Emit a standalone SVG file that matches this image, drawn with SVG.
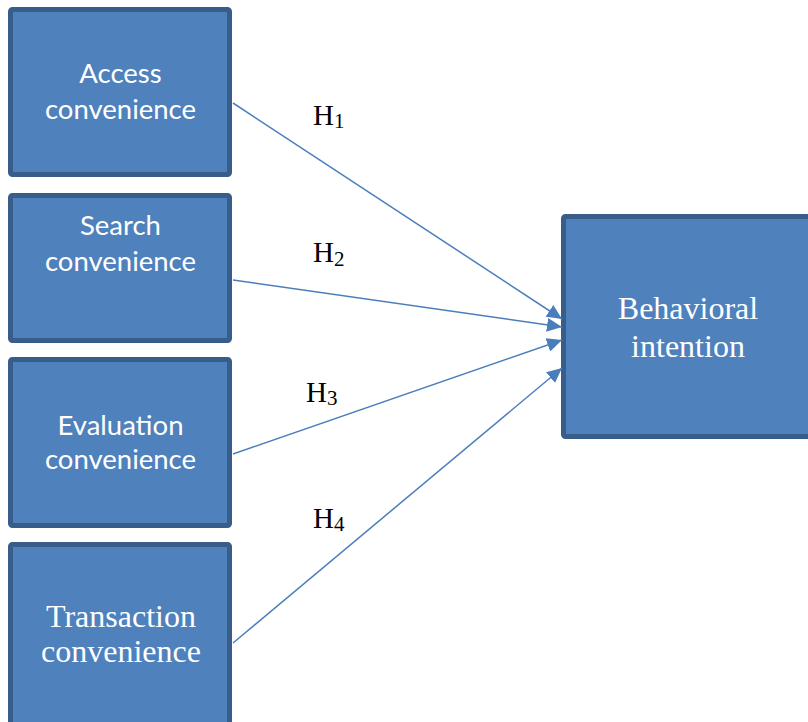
<svg xmlns="http://www.w3.org/2000/svg" width="808" height="722" viewBox="0 0 808 722">
  <style>
    .box { fill: #4f81bd; stroke: #385d8a; stroke-width: 5; }
    .sans { font-family: Lato, "Open Sans", "Liberation Sans", sans-serif; font-size: 27.5px; fill: #ffffff; text-anchor: middle; }
    .serif { font-family: "Liberation Serif", "Times New Roman", serif; font-size: 32px; fill: #ffffff; text-anchor: middle; }
    .hyp { font-family: "Liberation Serif", "Times New Roman", serif; font-size: 29px; fill: #000000; }
    .sub { font-size: 21px; }
    .link { fill: none; stroke: #4a7ebb; stroke-width: 1.5; marker-end: url(#head); }
  </style>
  <defs>
    <marker id="head" markerUnits="userSpaceOnUse" markerWidth="17" markerHeight="14" refX="15" refY="7" orient="auto">
      <path d="M0,0 L15,7 L0,14 Z" fill="#4a7ebb"/>
    </marker>
  </defs>

  <rect width="808" height="722" fill="#ffffff"/>

  <!-- source constructs -->
  <g id="access">
    <rect class="box" x="10.5" y="9.5" width="219" height="165" rx="2"/>
    <text class="sans" x="120.5" y="83">Access</text>
    <text class="sans" x="120.5" y="119">convenience</text>
  </g>

  <g id="search">
    <rect class="box" x="10.5" y="195.5" width="219" height="145" rx="2"/>
    <text class="sans" x="120.5" y="235">Search</text>
    <text class="sans" x="120.5" y="271">convenience</text>
  </g>

  <g id="evaluation">
    <rect class="box" x="10.5" y="359.5" width="219" height="166" rx="2"/>
    <text class="sans" x="120.5" y="435">Evaluation</text>
    <text class="sans" x="120.5" y="469">convenience</text>
  </g>

  <g id="transaction">
    <rect class="box" x="10.5" y="544.5" width="219" height="200" rx="2"/>
    <text class="serif" x="121" y="627">Transaction</text>
    <text class="serif" x="121" y="662">convenience</text>
  </g>

  <!-- outcome construct -->
  <g id="behavioral">
    <rect class="box" x="563.5" y="216.5" width="260" height="220" rx="2"/>
    <text class="serif" x="688" y="319">Behavioral</text>
    <text class="serif" x="688" y="357">intention</text>
  </g>

  <g id="connectors">
    <line class="link" x1="233" y1="103" x2="562" y2="319"/>
    <line class="link" x1="233" y1="280" x2="562" y2="327"/>
    <line class="link" x1="233" y1="454" x2="562" y2="340"/>
    <line class="link" x1="233" y1="643" x2="562" y2="368"/>
  </g>

  <!-- hypothesis labels -->
  <g id="labels">
    <text class="hyp" x="313" y="125">H<tspan class="sub" dy="3">1</tspan></text>
    <text class="hyp" x="313" y="262">H<tspan class="sub" dy="4">2</tspan></text>
    <text class="hyp" x="306" y="402">H<tspan class="sub" dy="3">3</tspan></text>
    <text class="hyp" x="313" y="528">H<tspan class="sub" dy="3">4</tspan></text>
  </g>
</svg>
